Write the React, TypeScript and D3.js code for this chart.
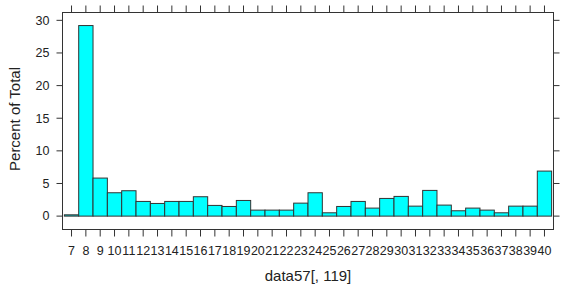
import React from 'react';
import * as d3 from 'd3';

// histogram bins (integer values) and percent of total
const bins = [7, 8, 9, 10, 11, 12, 13, 14, 15, 16, 17, 18, 19, 20, 21, 22, 23, 24, 25, 26, 27, 28, 29, 30, 31, 32, 33, 34, 35, 36, 37, 38, 39, 40];
const percents = [0.2, 29.2, 5.83, 3.58, 3.89, 2.25, 1.94, 2.25, 2.25, 2.97, 1.64, 1.48, 2.4, 0.92, 0.92, 0.92, 1.99, 3.58, 0.51, 1.48, 2.25, 1.23, 2.71, 3.02, 1.53, 3.94, 1.69, 0.82, 1.23, 0.92, 0.51, 1.53, 1.53, 6.9];
const yTicks = [0, 5, 10, 15, 20, 25, 30];

const W = 563;
const H = 289;
const box = { left: 62.5, right: 553.5, top: 12.5, bottom: 229.5 };
const font = '"Liberation Sans", Arial, sans-serif';
const axisCol = '#333';

export default function App() {
  const x = d3.scaleLinear().domain([6.37, 40.63]).range([box.left, box.right]);
  const y = d3.scaleLinear().domain([-2.05, 31.2]).range([box.bottom, box.top]);

  return (
    <svg width={W} height={H} style={{ position: 'absolute', left: 0, top: 0 }}>
      <rect width={W} height={H} fill="#fff" />
      {/* bars */}
      {bins.map((b, i) => (
        <rect
          key={b}
          x={x(b - 0.5)}
          y={y(percents[i])}
          width={x(b + 0.5) - x(b - 0.5)}
          height={y(0) - y(percents[i])}
          fill="#00ffff"
          stroke="#333"
          strokeWidth={1}
        />
      ))}
      {/* panel frame */}
      <rect
        x={box.left}
        y={box.top}
        width={box.right - box.left}
        height={box.bottom - box.top}
        fill="none"
        stroke={axisCol}
        strokeWidth={1}
      />
      {/* x ticks top & bottom */}
      {bins.map(b => (
        <g key={'xt' + b}>
          <line x1={x(b)} x2={x(b)} y1={box.top} y2={box.top - 7} stroke={axisCol} />
          <line x1={x(b)} x2={x(b)} y1={box.bottom} y2={box.bottom + 7} stroke={axisCol} />
          <text x={x(b)} y={255} textAnchor="middle" fontFamily={font} fontSize={12.5} fill="#222">{b}</text>
        </g>
      ))}
      {/* y ticks left & right */}
      {yTicks.map(t => (
        <g key={'yt' + t}>
          <line x1={box.left} x2={box.left - 6} y1={y(t)} y2={y(t)} stroke={axisCol} />
          <line x1={box.right} x2={box.right + 6} y1={y(t)} y2={y(t)} stroke={axisCol} />
          <text x={49.5} y={y(t)} dy="0.35em" textAnchor="end" fontFamily={font} fontSize={12.5} fill="#222">{t}</text>
        </g>
      ))}
      {/* axis titles */}
      <text
        transform="translate(19.5,119) rotate(-90)"
        textAnchor="middle"
        fontFamily={font}
        fontSize={15}
        fill="#222"
      >
        Percent of Total
      </text>
      <text x={308} y={281} textAnchor="middle" fontFamily={font} fontSize={15} fill="#222">
        data57[, 119]
      </text>
    </svg>
  );
}
